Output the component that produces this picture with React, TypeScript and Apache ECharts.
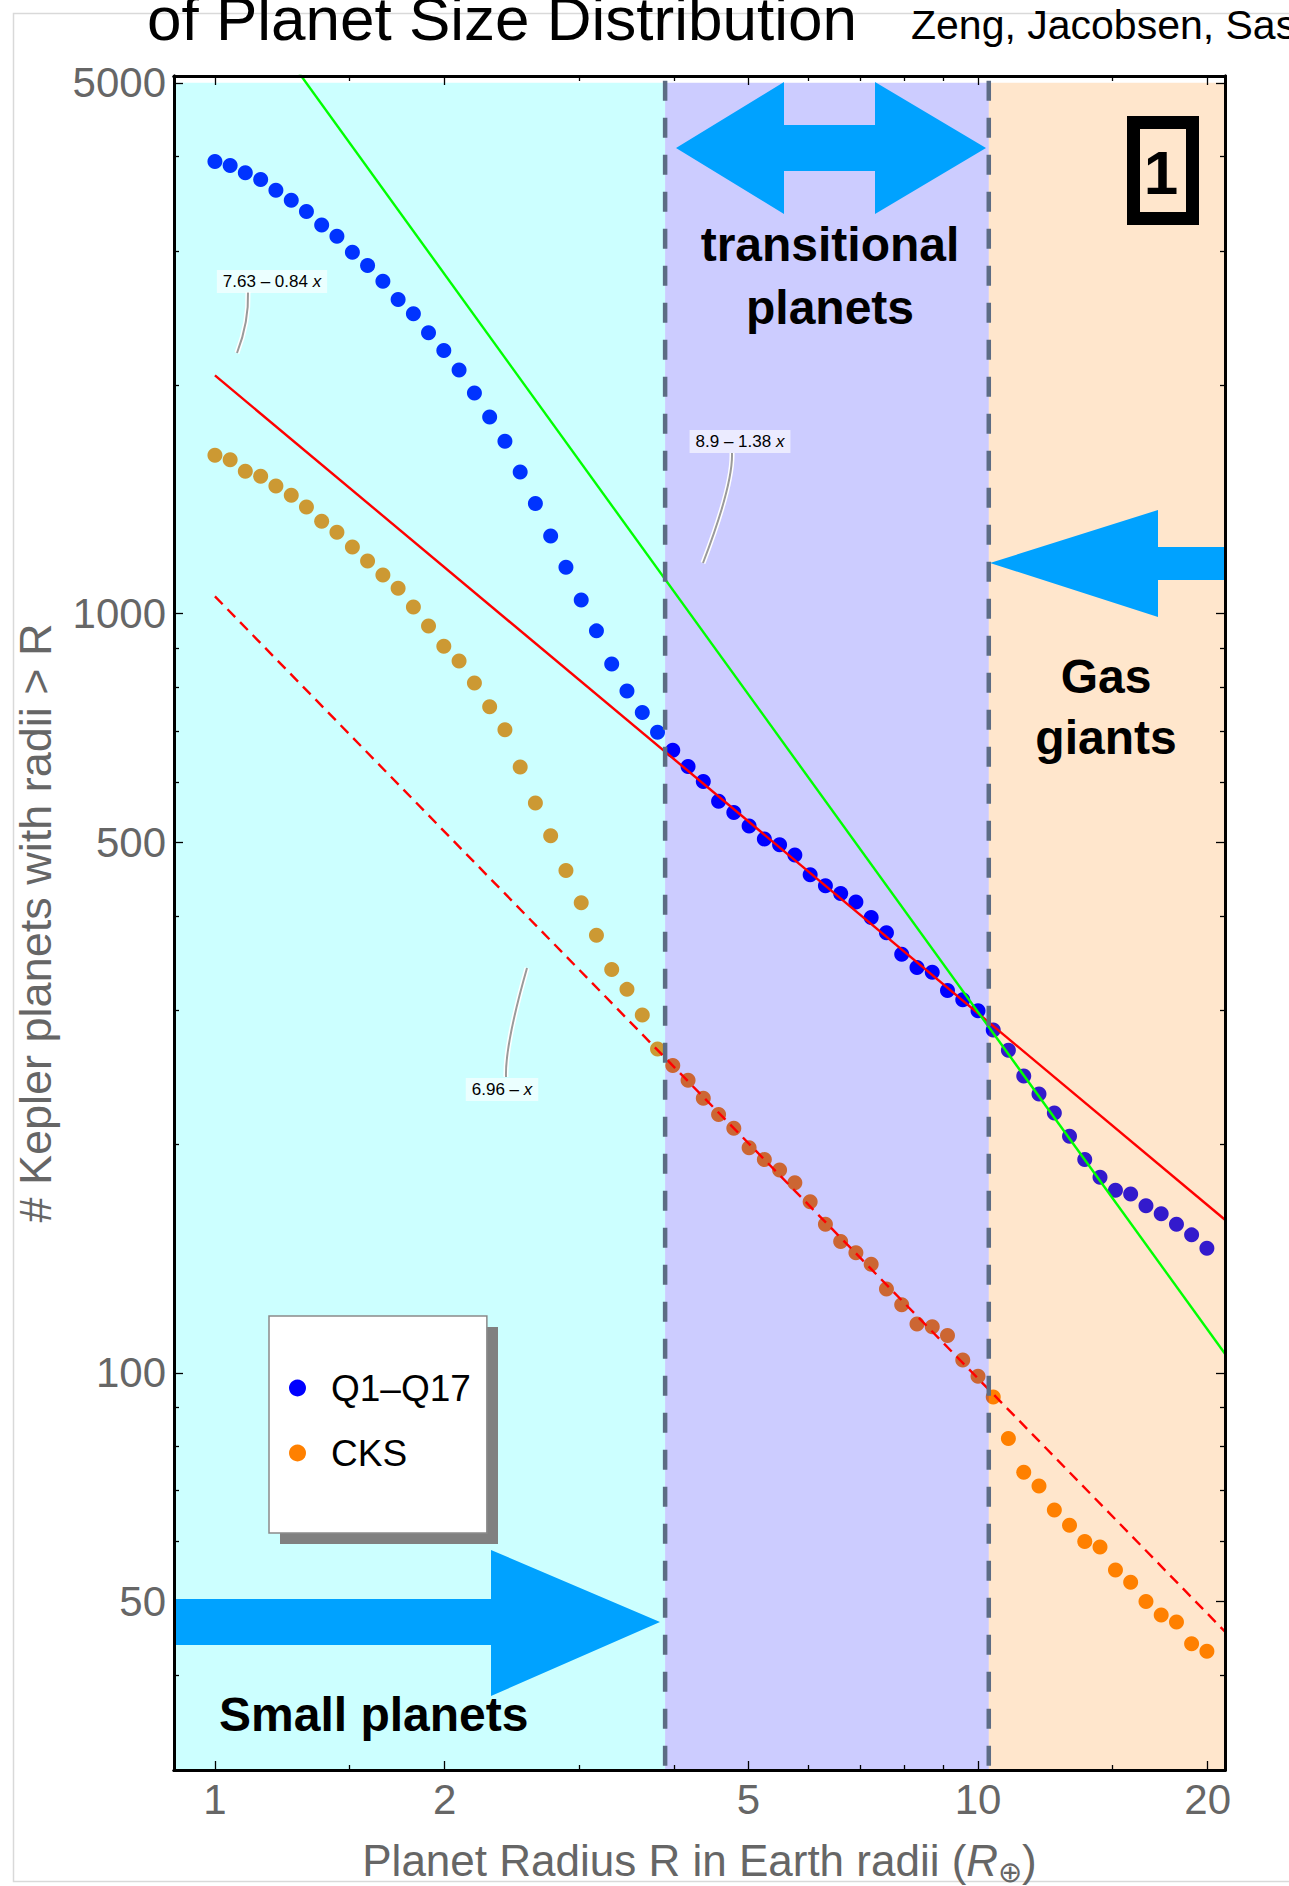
import React, { useEffect, useRef } from "react";
import * as echarts from "echarts";

// ---------- data ----------
const radius = [
  1.0, 1.047, 1.096, 1.148, 1.202, 1.259, 1.318, 1.38, 1.445, 1.514,
  1.585, 1.66, 1.738, 1.82, 1.905, 1.995, 2.089, 2.188, 2.291, 2.399,
  2.512, 2.63, 2.754, 2.884, 3.02, 3.162, 3.311, 3.467, 3.631, 3.802,
  3.981, 4.169, 4.365, 4.571, 4.786, 5.012, 5.248, 5.495, 5.754, 6.026,
  6.31, 6.607, 6.918, 7.244, 7.586, 7.943, 8.318, 8.71, 9.12, 9.55,
  10.0, 10.47, 10.96, 11.48, 12.02, 12.59, 13.18, 13.8, 14.45, 15.14,
  15.85, 16.6, 17.38, 18.2, 19.05, 19.95,
];
const q1q17 = [
  3938, 3891, 3808, 3731, 3609, 3502, 3386, 3248, 3141, 2991,
  2874, 2739, 2592, 2483, 2344, 2221, 2093, 1952, 1815, 1687,
  1536, 1396, 1265, 1151, 1042, 949, 858, 791, 741, 698,
  661, 629, 601, 566, 547, 525, 505, 496, 481, 453,
  438, 428, 417, 398, 380, 356, 342, 337, 319, 310,
  300, 283, 266, 246, 233, 220, 205, 191, 181, 174,
  172, 166, 162, 157, 152, 146,
];
const cks = [
  1616, 1594, 1540, 1517, 1472, 1432, 1382, 1323, 1280, 1224,
  1173, 1124, 1080, 1020, 963, 906, 866, 810, 754, 703,
  628, 563, 510, 459, 416, 377, 340, 320, 296, 267,
  254, 243, 230, 219, 210, 198, 191, 185, 178, 168,
  157, 149, 144, 139, 129, 123, 116, 115, 112, 104,
  99, 93, 82, 74, 71, 66, 63, 60, 59, 55,
  53, 50, 48, 47, 44, 43,
];
// fitted lines as drawn: ln N = a - b ln R
const fitSolid = [7.63, 0.84];
const fitSteep = [8.9, 1.39];
const fitDashed = [6.96, 1.03];
const fitRange = [1, 21.07];

const xTicksMajor = [1, 2, 5, 10, 20];
const xTicksMinor = [1.5, 3, 4, 6, 7, 8, 9, 15];
const yTicksMajor = [50, 100, 500, 1000, 5000];
const yTicksMinor = [40, 60, 70, 80, 90, 200, 300, 400, 600, 700, 800, 900, 2000, 3000, 4000];

const regionEdges = [0.8838, 3.89, 10.33, 21.07];
const regionTop = 5000;
const regionBottom = 30;
const boundaries = [3.89, 10.33];

const seriesNames = ["Q1\u2013Q17", "CKS"];

// ---------- styles ----------
const FONT = "'Liberation Sans', Arial, Helvetica, sans-serif";
const GRAY = "#666666";
const X_MIN = 0.8838;
const X_MAX = 21.07;
const Y_MIN = 30;
const Y_MAX = 5105;
const regionColors = ["rgba(0,255,255,0.2)", "rgba(0,0,255,0.2)", "rgba(255,128,0,0.2)"];
const ARROW = "#00a2ff";

function fitPoints(c: number[]) {
  return fitRange.map((r) => [r, Math.exp(c[0] - c[1] * Math.log(r))]);
}

function fmt(v: number) {
  return String(Math.round(v * 100) / 100);
}

function xAxisOf(pos: string, ticks: number[], len: number, labels: boolean) {
  const ax: any = {
    type: "log",
    logBase: 10,
    min: X_MIN,
    max: X_MAX,
    position: pos,
    gridIndex: 0,
    z: 10,
    silent: true,
    axisLine: { show: true, onZero: false, lineStyle: { color: "#000", width: 3 } },
    axisTick: { show: true, inside: true, length: len, customValues: ticks, lineStyle: { color: "#000", width: 1.3 } },
    axisLabel: { show: false },
    splitLine: { show: false },
    minorTick: { show: false },
    minorSplitLine: { show: false },
  };
  if (labels) {
    ax.axisLabel = {
      show: true,
      customValues: ticks,
      formatter: (v: number) => fmt(v),
      color: GRAY,
      fontSize: 42,
      fontFamily: FONT,
      margin: 8,
    };
    ax.name = "{n|Planet Radius R in Earth radii (}{i|R}{s|\u2295}{n|)}";
    ax.nameLocation = "middle";
    ax.nameGap = 64;
    ax.nameTextStyle = {
      rich: {
        n: { fontSize: 44, fontFamily: FONT, color: GRAY },
        i: { fontSize: 44, fontFamily: FONT, color: GRAY, fontStyle: "italic" },
        s: { fontSize: 29, fontFamily: FONT, color: GRAY, padding: [23, 0, 0, 0] },
      },
    };
  }
  return ax;
}

function yAxisOf(pos: string, ticks: number[], len: number, labels: boolean) {
  const ax: any = {
    type: "log",
    logBase: 10,
    min: Y_MIN,
    max: Y_MAX,
    position: pos,
    gridIndex: 0,
    z: 10,
    silent: true,
    axisLine: { show: true, onZero: false, lineStyle: { color: "#000", width: 3 } },
    axisTick: { show: true, inside: true, length: len, customValues: ticks, lineStyle: { color: "#000", width: 1.3 } },
    axisLabel: { show: false },
    splitLine: { show: false },
    minorTick: { show: false },
    minorSplitLine: { show: false },
  };
  if (labels) {
    ax.axisLabel = {
      show: true,
      customValues: ticks,
      formatter: (v: number) => fmt(v),
      color: GRAY,
      fontSize: 42,
      fontFamily: FONT,
      margin: 8,
    };
    ax.name = "# Kepler planets with radii > R";
    ax.nameLocation = "middle";
    ax.nameGap = 116;
    ax.nameTextStyle = { fontSize: 45, fontFamily: FONT, color: GRAY };
  }
  return ax;
}

function leader(x1: number, y1: number, cx: number, cy: number, x2: number, y2: number) {
  return [
    { type: "bezierCurve", shape: { x1, y1, x2, y2, cpx1: cx, cpy1: cy }, style: { stroke: "#ffffff", lineWidth: 5, fill: "none" }, z: 60, silent: true },
    { type: "bezierCurve", shape: { x1, y1, x2, y2, cpx1: cx, cpy1: cy }, style: { stroke: "#9a9a9a", lineWidth: 2, fill: "none" }, z: 61, silent: true },
  ];
}

function fitLabel(text: string, x: number, y: number) {
  return {
    type: "text",
    x,
    y,
    z: 62,
    silent: true,
    style: {
      text,
      rich: {
        n: { fontSize: 17, fontFamily: FONT, fill: "#000" },
        i: { fontSize: 17, fontFamily: FONT, fill: "#000", fontStyle: "italic" },
      },
      backgroundColor: "rgba(255,255,255,0.6)",
      padding: [3, 6],
      align: "center",
      verticalAlign: "middle",
    },
  };
}

function boldText(text: string, x: number, y: number, align: string, lineHeight: number) {
  return {
    type: "text",
    x,
    y,
    z: 70,
    silent: true,
    style: {
      text,
      fontSize: 48,
      fontWeight: "bold",
      fontFamily: FONT,
      fill: "#000",
      align,
      verticalAlign: "middle",
      lineHeight,
    },
  };
}

export default function App() {
  const ref = useRef<HTMLDivElement>(null);

  useEffect(() => {
    if (!ref.current) return;
    const chart = echarts.init(ref.current, undefined, { renderer: "svg" });

    const graphic: any[] = [
      { type: "rect", shape: { x: 13.5, y: 13.5, width: 1320, height: 1868 }, style: { fill: "none", stroke: "#d9d9d9", lineWidth: 1.5 }, z: 0, silent: true },
      { type: "text", x: 147, y: 18.5, z: 70, silent: true, style: { text: "of Planet Size Distribution", fontSize: 62, fontFamily: FONT, fill: "#000", align: "left", verticalAlign: "middle" } },
      { type: "text", x: 911, y: 24.5, z: 70, silent: true, style: { text: "Zeng, Jacobsen, Sasselov", fontSize: 41, fontFamily: FONT, fill: "#000", align: "left", verticalAlign: "middle" } },
      // double arrow (transitional)
      {
        type: "polygon", z: 50, silent: true,
        shape: { points: [[676, 148], [784, 82], [784, 125], [875, 125], [875, 82], [986, 148], [875, 214], [875, 171], [784, 171], [784, 214]] },
        style: { fill: ARROW },
      },
      // left-pointing arrow (gas giants)
      {
        type: "polygon", z: 50, silent: true,
        shape: { points: [[990, 563], [1158, 510], [1158, 547], [1224, 547], [1224, 580], [1158, 580], [1158, 617]] },
        style: { fill: ARROW },
      },
      // right-pointing arrow (small planets)
      {
        type: "polygon", z: 50, silent: true,
        shape: { points: [[176, 1599], [491, 1599], [491, 1550], [660, 1622], [491, 1696], [491, 1645], [176, 1645]] },
        style: { fill: ARROW },
      },
      boldText("transitional\nplanets", 830, 276, "center", 63),
      boldText("Gas\ngiants", 1106, 707, "center", 61),
      boldText("Small planets", 219, 1714, "left", 50),
      // boxed 1
      { type: "rect", z: 70, silent: true, shape: { x: 1133.5, y: 122.5, width: 59, height: 96 }, style: { fill: "none", stroke: "#000", lineWidth: 13 } },
      { type: "text", x: 1161, y: 172, z: 70, silent: true, style: { text: "1", fontSize: 62, fontWeight: "bold", fontFamily: FONT, fill: "#000", align: "center", verticalAlign: "middle" } },
      // fit labels
      ...leader(248, 292, 249, 322, 237, 353),
      fitLabel("{n|7.63 \u2013 0.84 }{i|x}", 272, 281.5),
      ...leader(732, 453, 733, 485, 703, 563),
      fitLabel("{n|8.9 \u2013 1.38 }{i|x}", 740, 441.5),
      ...leader(506, 1077, 505, 1045, 527, 968),
      fitLabel("{n|6.96 \u2013 }{i|x}", 502, 1089.5),
      // legend shadow
      { type: "rect", z: 29, silent: true, shape: { x: 280, y: 1327, width: 218, height: 217 }, style: { fill: "#808080" } },
    ];

    const option: any = {
      animation: false,
      backgroundColor: "#ffffff",
      grid: { left: 174, top: 76, width: 1051, height: 1694, containLabel: false, outerBoundsMode: "none" },
      xAxis: [
        xAxisOf("bottom", xTicksMajor, 9, true),
        xAxisOf("bottom", xTicksMinor, 5, false),
        xAxisOf("top", xTicksMajor, 9, false),
        xAxisOf("top", xTicksMinor, 5, false),
      ],
      yAxis: [
        yAxisOf("left", yTicksMajor, 9, true),
        yAxisOf("left", yTicksMinor, 5, false),
        yAxisOf("right", yTicksMajor, 9, false),
        yAxisOf("right", yTicksMinor, 5, false),
      ],
      legend: {
        data: seriesNames,
        orient: "vertical",
        left: 269,
        top: 1316,
        padding: [52, 16, 60, 20],
        itemGap: 25,
        itemWidth: 17,
        itemHeight: 17,
        icon: "circle",
        selectedMode: false,
        backgroundColor: "#ffffff",
        borderColor: "#8a8a8a",
        borderWidth: 1.5,
        z: 30,
        textStyle: { fontSize: 37, fontFamily: FONT, color: "#000", padding: [0, 0, 0, 20], lineHeight: 40 },
      },
      graphic,
      series: [
        {
          name: seriesNames[0],
          type: "scatter",
          xAxisIndex: 0,
          yAxisIndex: 0,
          symbol: "circle",
          symbolSize: 15,
          itemStyle: { color: "#0000ff", opacity: 1 },
          data: radius.map((r, i) => [r, q1q17[i]]),
          z: 2,
          silent: true,
        },
        {
          name: seriesNames[1],
          type: "scatter",
          xAxisIndex: 0,
          yAxisIndex: 0,
          symbol: "circle",
          symbolSize: 15,
          itemStyle: { color: "#ff8000", opacity: 1 },
          data: radius.map((r, i) => [r, cks[i]]),
          z: 2,
          silent: true,
        },
        {
          name: "regions",
          type: "custom",
          xAxisIndex: 0,
          yAxisIndex: 0,
          z: 3,
          silent: true,
          data: [0, 1, 2].map((i) => [regionEdges[i], regionEdges[i + 1], regionTop, regionBottom]),
          encode: { x: [0, 1], y: [2, 3] },
          renderItem: (params: any, api: any) => {
            const p0 = api.coord([api.value(0), api.value(2)]);
            const p1 = api.coord([api.value(1), api.value(3)]);
            return {
              type: "rect",
              shape: { x: p0[0], y: p0[1], width: p1[0] - p0[0], height: p1[1] - p0[1] },
              style: { fill: regionColors[params.dataIndex] },
            };
          },
        },
        {
          name: "fit 7.63-0.84x",
          type: "line",
          xAxisIndex: 0,
          yAxisIndex: 0,
          showSymbol: false,
          symbol: "none",
          z: 4,
          silent: true,
          lineStyle: { color: "#ff0000", width: 2.4 },
          data: fitPoints(fitSolid),
        },
        {
          name: "fit 8.9-1.38x",
          type: "line",
          xAxisIndex: 0,
          yAxisIndex: 0,
          showSymbol: false,
          symbol: "none",
          z: 4,
          silent: true,
          lineStyle: { color: "#00ff00", width: 2.4 },
          data: fitPoints(fitSteep),
        },
        {
          name: "fit 6.96-x",
          type: "line",
          xAxisIndex: 0,
          yAxisIndex: 0,
          showSymbol: false,
          symbol: "none",
          z: 4,
          silent: true,
          lineStyle: { color: "#ff0000", width: 2.4, type: [11, 7] },
          data: fitPoints(fitDashed),
        },
        {
          name: "boundaries",
          type: "custom",
          xAxisIndex: 0,
          yAxisIndex: 0,
          z: 5,
          silent: true,
          data: boundaries.map((b) => [b, regionTop, regionBottom]),
          encode: { x: 0, y: [1, 2] },
          renderItem: (params: any, api: any) => {
            const p0 = api.coord([api.value(0), api.value(1)]);
            const p1 = api.coord([api.value(0), api.value(2)]);
            return {
              type: "line",
              shape: { x1: p0[0], y1: p0[1] - 2, x2: p1[0], y2: p1[1] },
              style: { stroke: "rgb(92,108,132)", lineWidth: 4.5, lineDash: [20, 17] },
            };
          },
        },
      ],
    };

    chart.setOption(option);
    return () => chart.dispose();
  }, []);

  return <div ref={ref} style={{ position: "fixed", left: 0, top: 0, width: 1289, height: 1886 }} />;
}
